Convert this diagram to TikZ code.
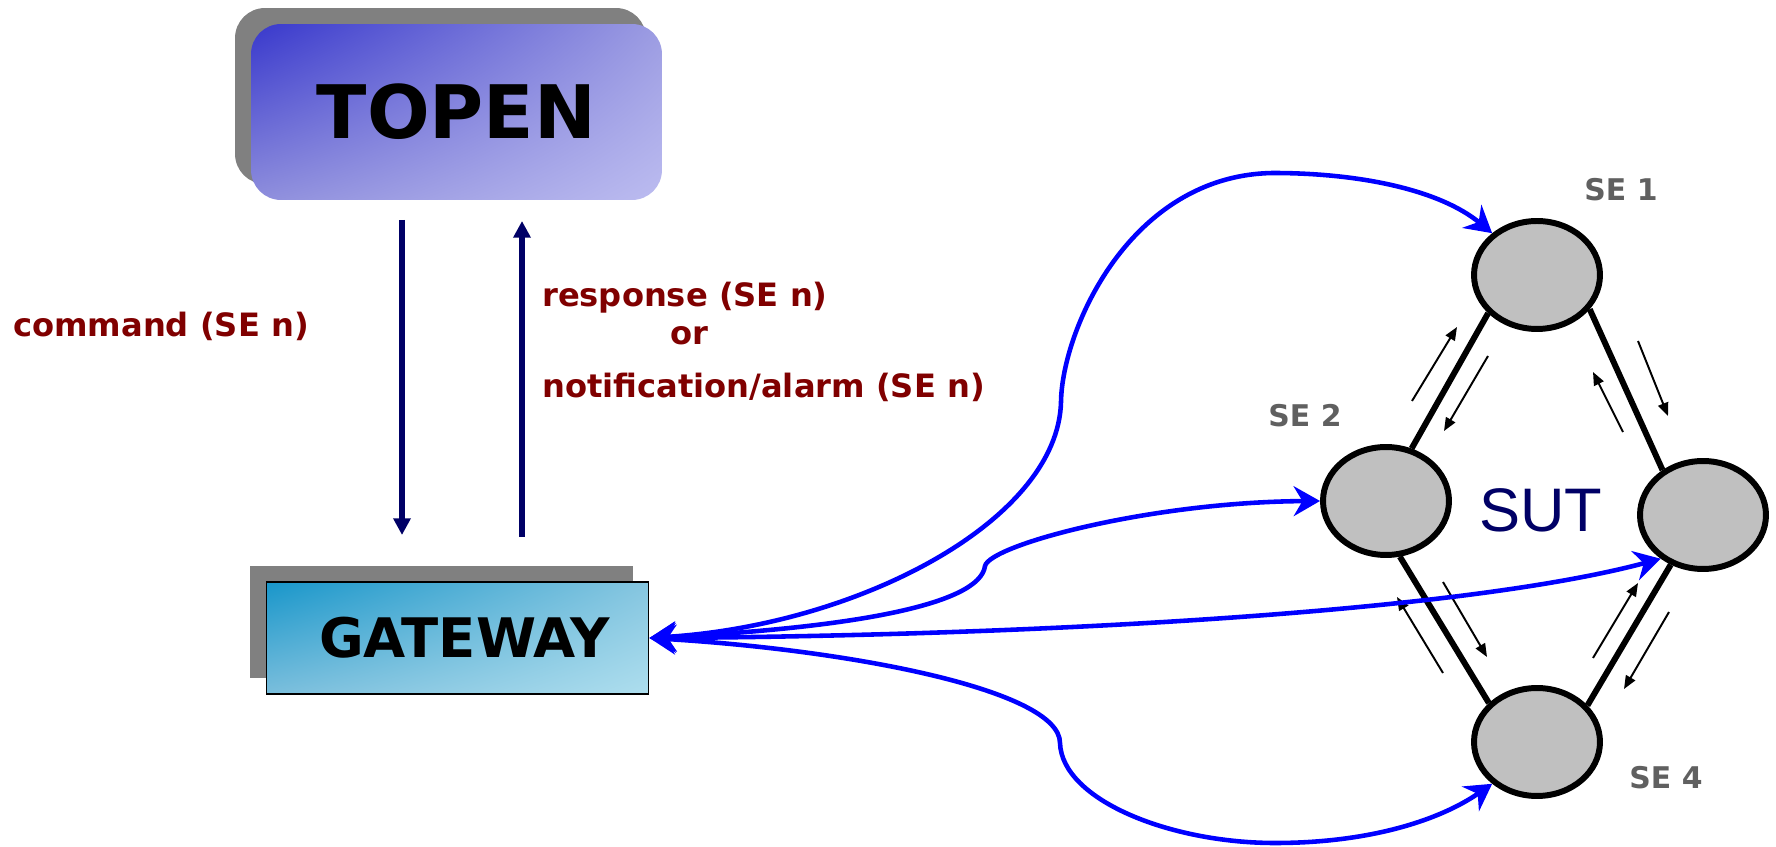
\documentclass[tikz,border=0pt]{standalone}
\usepackage{fontspec}
\setmainfont{DejaVu Sans}
\newfontfamily\sutfont{Liberation Sans}
\usetikzlibrary{arrows.meta,shapes.geometric,shadows,shadings}

\definecolor{topenUL}{HTML}{3838CC}
\definecolor{topenUR}{HTML}{9C9CE2}
\definecolor{topenLL}{HTML}{8E8EDC}
\definecolor{topenLR}{HTML}{BCBCF0}
\definecolor{gateUL}{HTML}{1896CA}
\definecolor{gateUR}{HTML}{86C6E0}
\definecolor{gateLL}{HTML}{7ABEDC}
\definecolor{gateLR}{HTML}{AEDEEE}
\definecolor{msgred}{HTML}{800000}
\definecolor{navyline}{HTML}{000066}
\definecolor{selabel}{HTML}{606060}
\definecolor{nodegray}{HTML}{C0C0C0}
\definecolor{shadowgray}{HTML}{808080}

\tikzset{
  boxshadow/.style={drop shadow={shadow xshift=-0.32cm,shadow yshift=0.32cm,fill=shadowgray,opacity=1}},
  topenbox/.style={rounded corners=0.6cm,minimum width=8.22cm,minimum height=3.52cm,
    upper left=topenUL,upper right=topenUR,lower left=topenLL,lower right=topenLR,boxshadow,
    font=\fontsize{42pt}{44pt}\selectfont\bfseries},
  gatebox/.style={draw=black,line width=0.6pt,minimum width=7.66cm,minimum height=2.24cm,
    upper left=gateUL,upper right=gateUR,lower left=gateLL,lower right=gateLR,boxshadow,
    font=\fontsize{31pt}{33pt}\selectfont\bfseries},
  se/.style={ellipse,draw,line width=3.4pt,fill=nodegray,inner sep=0pt,
    minimum width=2.52cm,minimum height=2.16cm},
  selbl/.style={text=selabel,font=\fontsize{17pt}{19pt}\selectfont\bfseries},
  msg/.style={text=msgred,font=\fontsize{18.3pt}{20pt}\selectfont\bfseries},
  cmdline/.style={draw=navyline,line width=3.2pt,-{Triangle[length=9.5pt,width=9.5pt]}},
  link/.style={draw=blue,line width=2.6pt,
    {Stealth[length=15pt,width=17pt,inset=5pt]}-{Stealth[length=15pt,width=17pt,inset=5pt]}},
  bus/.style={line width=3.4pt},
  flow/.style={line width=1.1pt,-{Triangle[length=7.5pt,width=6pt]}},
}

\begin{document}
\begin{tikzpicture}[x=0.02cm,y=-0.02cm]
	\path[use as bounding box,fill=white](0,0)rectangle(1776,847);

	% the two boxes
	\node[topenbox](topen)at(456.5,112){TOPEN};
	\node[gatebox](gw)at(457.5,638){\kern0.28cm GATEWAY};

	% messages between them
	\coordinate(cmdtop)at(402,220);
	\coordinate(cmdbot)at(402,535);
	\coordinate(rsptop)at(522,221);
	\coordinate(rspbot)at(522,537);
	\draw[cmdline](cmdtop)--(cmdbot);
	\draw[cmdline](rspbot)--(rsptop);
	\node[msg](cmd)at(161,326){command (SE n)};
	\node[msg,anchor=west](rsp)at(536,298){response (SE n)};
	\node[msg](or)at(689,336){or};
	\node[msg,anchor=west](ntf)at(536,387){notification/alarm (SE n)};

	% system under test
	\node[se](se1)at(1537,275){};
	\node[se](se2)at(1386,501){};
	\node[se](se3)at(1703,515){};
	\node[se](se4)at(1537,742){};
	\node[selbl](l1)at(1621,190){SE 1};
	\node[selbl](l2)at(1305,416){SE 2};
	\node[selbl](l4)at(1666,778){SE 4};
	\node[text=navyline,font=\sutfont\fontsize{35pt}{37pt}\selectfont](sut)at(1541,510){SUT};
	\draw[bus](se1.218)--(se2.64) (se1.-33)--(se3.132)
		(se2.-76)--(se4.141) (se3.237)--(se4.36);
	\draw[flow](1412,401)--(1457,327);
	\draw[flow](1488,356)--(1444,431);
	\draw[flow](1623,432)--(1593,372);
	\draw[flow](1638,341)--(1668,416);
	\draw[flow](1443,673)--(1397,597);
	\draw[flow](1443,582)--(1487,657);
	\draw[flow](1593,658)--(1638,583);
	\draw[flow](1669,612)--(1624,689);

	% gateway links
	\draw[link](gw.east)..controls(860,625)and(1058,520)..(1061,402)
		..controls(1062,330)and(1130,175)..(1273,173)
		..controls(1360,173)and(1440,190)..(se1.137);
	\draw[link](gw.east)..controls(850,628)and(980,605)..(985,566)
		..controls(990,545)and(1150,502)..(se2.west);
	\draw[link](gw.east)..controls(1000,636)and(1450,615)..(se3.226);
	\draw[link](gw.east)..controls(850,650)and(1060,690)..(1060,743)
		..controls(1062,800)and(1170,843)..(1275,843)
		..controls(1370,843)and(1440,820)..(se4.223);
\end{tikzpicture}
\end{document}
